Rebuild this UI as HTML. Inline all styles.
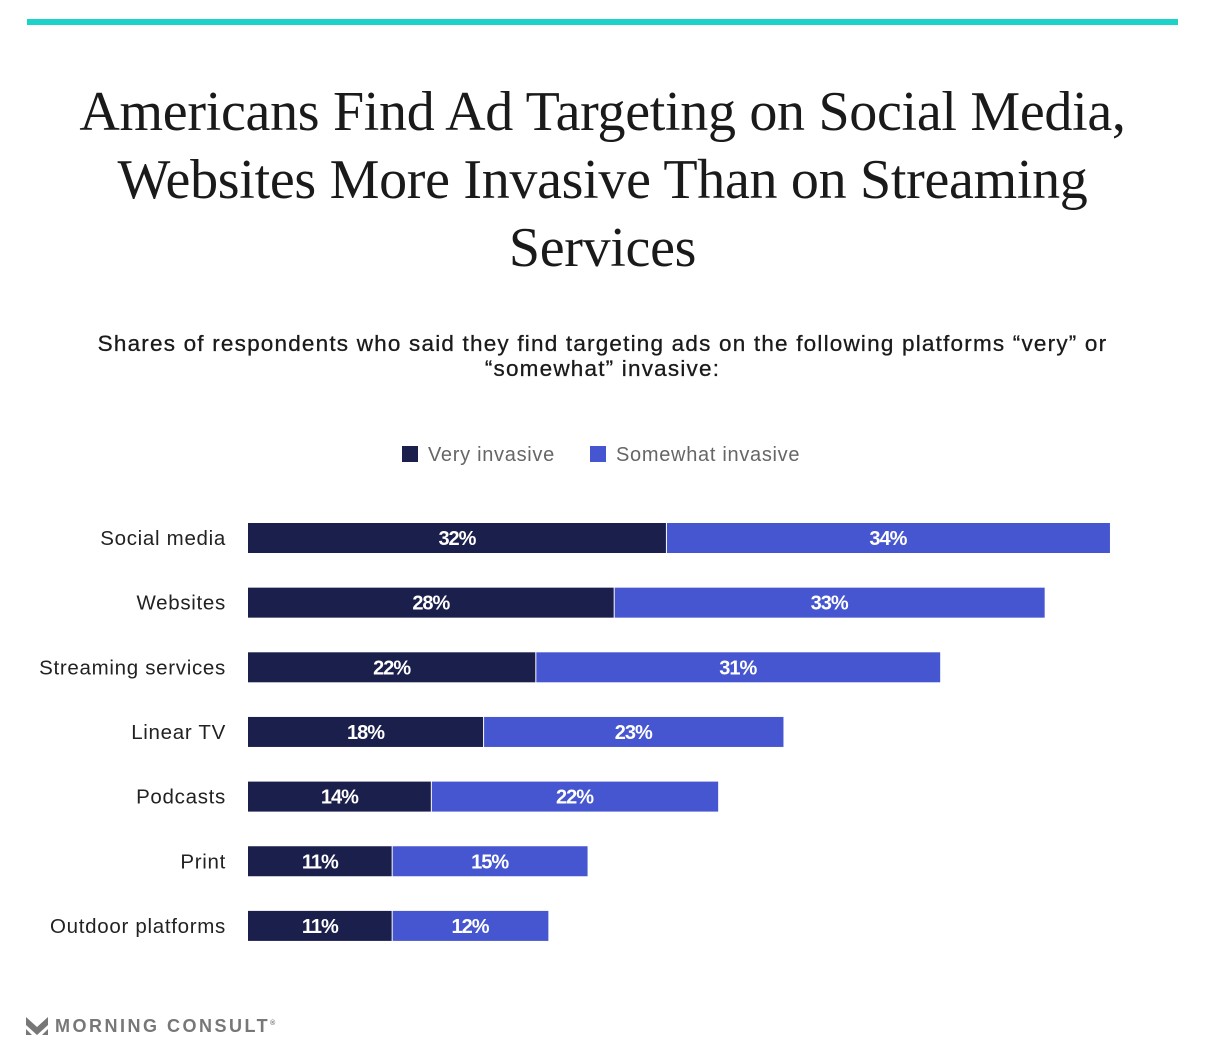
<!DOCTYPE html>
<html><head><meta charset="utf-8"><style>
body{margin:0;width:1205px;height:1057px;background:#fff;position:relative;overflow:hidden;font-family:"Liberation Sans",sans-serif}
.topbar{position:absolute;left:27px;top:19px;width:1151px;height:6px;background:#1dd3c9}
h1{position:absolute;left:0;top:78px;width:1205px;margin:0;text-align:center;font-family:"Liberation Serif",serif;font-weight:normal;font-size:56px;line-height:68px;color:#1a1a1a;letter-spacing:-0.3px}
.sub{position:absolute;left:0;top:331px;width:1205px;text-align:center;font-size:22.5px;line-height:25px;color:#1a1a1a;letter-spacing:1.2px;-webkit-text-stroke:0.3px #1a1a1a}
.legend{position:absolute;top:444px;font-size:20px;color:#666;letter-spacing:0.7px}
.sw{display:inline-block;width:16px;height:16px;vertical-align:-1px;margin-right:10px}
.logo{position:absolute;left:55px;top:1016px;font-size:18px;font-weight:bold;letter-spacing:2.5px;color:#777}
</style></head><body>
<div class="topbar"></div>
<h1>Americans Find Ad Targeting on Social Media,<br>Websites More Invasive Than on Streaming<br>Services</h1>
<div class="sub">Shares of respondents who said they find targeting ads on the following platforms “very” or<br>“somewhat” invasive:</div>
<div class="legend" style="left:402px"><span class="sw" style="background:#1b1f4b"></span>Very invasive</div>
<div class="legend" style="left:590px"><span class="sw" style="background:#4656d0"></span>Somewhat invasive</div>
<svg id="chart" width="1205" height="1057" style="position:absolute;left:0;top:0"></svg>
<svg style="position:absolute;left:26px;top:1017px" width="22" height="20"><path d="M0 0 L11 10 L22 0 L22 8 L11 18 L0 8Z" fill="#777"/><path d="M0 12 L6 18 L0 18Z M22 12 L16 18 L22 18Z" fill="#777"/></svg>
<div class="logo">MORNING CONSULT<sup style="font-size:7px">®</sup></div>
<script>
const categories=["Social media","Websites","Streaming services","Linear TV","Podcasts","Print","Outdoor platforms"];
const veryValues=[32,28,22,18,14,11,11];
const somewhatValues=[34,33,31,23,22,15,12];
const ns="http://www.w3.org/2000/svg";
const svg=document.getElementById('chart');
const x0=248,pxPer=13.06,y0=538,step=64.65,bh=30;
const xs=v=>x0+v*pxPer;
const yc=i=>y0+i*step;
function mk(t,a){const e=document.createElementNS(ns,t);for(const k in a)e.setAttribute(k,a[k]);svg.appendChild(e);return e;}
categories.forEach((c,i)=>{
  const y=yc(i);
  const lab=mk('text',{x:226,y:y+7,'text-anchor':'end','font-size':20.5,fill:'#222','letter-spacing':'0.7','font-family':'Liberation Sans, sans-serif'});
  lab.textContent=c;
  
  
  const v=veryValues[i],s=somewhatValues[i];
  const r1=mk('rect',{x:xs(0),y:y-bh/2,width:xs(v)-xs(0),height:bh,fill:'#1b1f4b'});
  
  
  const r2=mk('rect',{x:xs(v)+1,y:y-bh/2,width:xs(v+s)-xs(v)-1,height:bh,fill:'#4656d0'});
  
  
  const t1=mk('text',{x:(xs(0)+xs(v))/2,y:y+7,'text-anchor':'middle','font-size':20,'font-weight':'bold',fill:'#fff','letter-spacing':'-1','font-family':'Liberation Sans, sans-serif'});
  t1.textContent=v+'%';
  
  
  const t2=mk('text',{x:(xs(v)+xs(v+s))/2,y:y+7,'text-anchor':'middle','font-size':20,'font-weight':'bold',fill:'#fff','letter-spacing':'-1','font-family':'Liberation Sans, sans-serif'});
  t2.textContent=s+'%';
  
  
});
</script>
</body></html>
